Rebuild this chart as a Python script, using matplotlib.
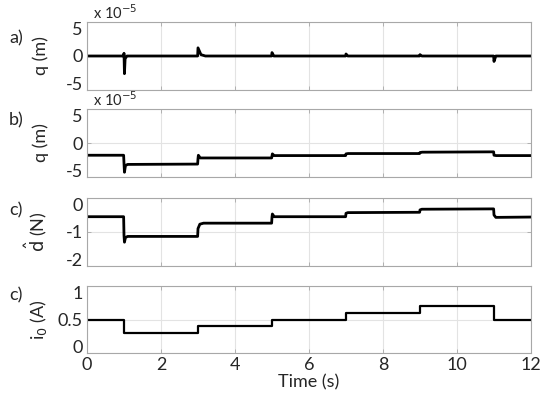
import matplotlib
matplotlib.use("Agg")
import matplotlib.pyplot as plt

plt.rcParams['font.family'] = ['Lato', 'DejaVu Sans']

# ---- data ----
# panel a: q (x1e-5 m), breakpoints of the trace
qa_t = [0, 0.99, 1.0, 1.012, 1.03, 1.08, 2.99, 3.0, 3.08, 3.2, 4.99, 5.0, 5.05,
        6.99, 7.0, 7.05, 8.99, 9.0, 9.05, 10.99, 11.0, 11.05, 12]
qa_v = [0, 0, 0.4, -2.6, -0.4, 0, 0, 1.2, 0.2, 0, 0, 0.5, 0,
        0, 0.3, 0, 0, 0.2, 0, 0, -0.8, 0, 0]

# panel b: q (x1e-5 m)
qb_t = [0, 0.99, 1.0, 1.012, 1.04, 1.1, 2.99, 3.0, 3.01, 3.06, 4.99, 5.0, 5.01, 5.06,
        6.99, 7.0, 7.06, 8.99, 9.0, 9.06, 10.99, 11.0, 11.06, 12]
qb_v = [-1.8, -1.8, -3.0, -4.3, -3.3, -3.15, -3.1, -2.3, -1.8, -2.2, -2.2, -1.9, -1.6, -1.85,
        -1.85, -1.6, -1.55, -1.55, -1.4, -1.35, -1.3, -1.8, -1.85, -1.85]

# panel c: disturbance estimate (N)
dc_t = [0, 0.99, 1.0, 1.012, 1.04, 1.1, 2.99, 3.0, 3.05, 3.15, 4.99, 5.0, 5.01, 5.06,
        6.99, 7.0, 7.05, 8.99, 9.0, 9.05, 10.99, 11.0, 11.05, 12]
dc_v = [-0.55, -0.55, -1.1, -1.3, -1.16, -1.13, -1.13, -0.9, -0.77, -0.74, -0.74, -0.56, -0.47, -0.55,
        -0.55, -0.45, -0.43, -0.42, -0.35, -0.33, -0.32, -0.5, -0.57, -0.56]

# panel d: current steps (A)
i0_edges = [0, 1, 3, 5, 7, 9, 11, 12]
i0_levels = [0.5, 0.3, 0.4, 0.5, 0.6, 0.7, 0.5]

panel_letters = ['a)', 'b)', 'c)', 'c)']
ylabels = ['q (m)', 'q (m)', r'$\hat{\mathrm{d}}$ (N)', r'i$_0$ (A)']
ylims = [(-5, 5), (-5, 5), (-2, 0), (0, 1)]
yticks = [[-5, 0, 5], [-5, 0, 5], [-2, -1, 0], [0, 0.5, 1]]
ytick_labels = [['-5', '0', '5'], ['-5', '0', '5'], ['-2', '-1', '0'], ['0', '0.5', '1']]
xticks = [0, 2, 4, 6, 8, 10, 12]

# ---- layout ----
W, H = 550, 396
fig = plt.figure(figsize=(W / 100, H / 100), dpi=100)
left, right = 87, 531
boxes = [(22, 90), (109, 177), (198, 266), (286, 353)]
letter_y = [38, 120, 210, 295]

axes = []
for k, (top, bot) in enumerate(boxes):
    ax = fig.add_axes([left / W, 1 - bot / H, (right - left) / W, (bot - top) / H])
    axes.append(ax)

traces = [(qa_t, qa_v), (qb_t, qb_v), (dc_t, dc_v)]
for k in range(3):
    t, v = traces[k]
    axes[k].plot(t, v, color='black', lw=2.0)

i0_y = i0_levels + [i0_levels[-1]]
axes[3].step(i0_edges, i0_y, where='post', color='black', lw=1.6)

for k, ax in enumerate(axes):
    ax.set_xlim(0, 12)
    ax.set_ylim(*ylims[k])
    ax.set_xticks(xticks)
    ax.set_yticks(yticks[k])
    labs = ax.set_yticklabels(ytick_labels[k])
    labs[-1].set_verticalalignment('top')
    labs[0].set_verticalalignment('baseline')
    ax.grid(True, color='#e3e3e3', lw=0.8)
    ax.set_axisbelow(True)
    for s in ax.spines.values():
        s.set_color('#a8a8a8')
        s.set_linewidth(0.8)
    ax.tick_params(direction='in', length=3, width=0.6, color='#a8a8a8',
                   labelsize=13, labelcolor='#262626', pad=3,
                   top=True, right=True)
    if k < 3:
        ax.tick_params(labelbottom=False)
    ax.set_ylabel(ylabels[k], fontsize=13, color='#262626')
    ax.yaxis.set_label_coords(-0.085, 0.5)
    fig.text(16 / W, 1 - letter_y[k] / H, panel_letters[k], fontsize=13,
             color='#262626', ha='center', va='center')

for k in range(2):
    axes[k].text(0.013, 1.0, r'x 10$^{-5}$', transform=axes[k].transAxes,
                 fontsize=10.5, color='#262626', ha='left', va='bottom')

axes[3].set_xlabel('Time (s)', fontsize=13, color='#262626', labelpad=1)

fig.savefig('out.png', dpi=100)
